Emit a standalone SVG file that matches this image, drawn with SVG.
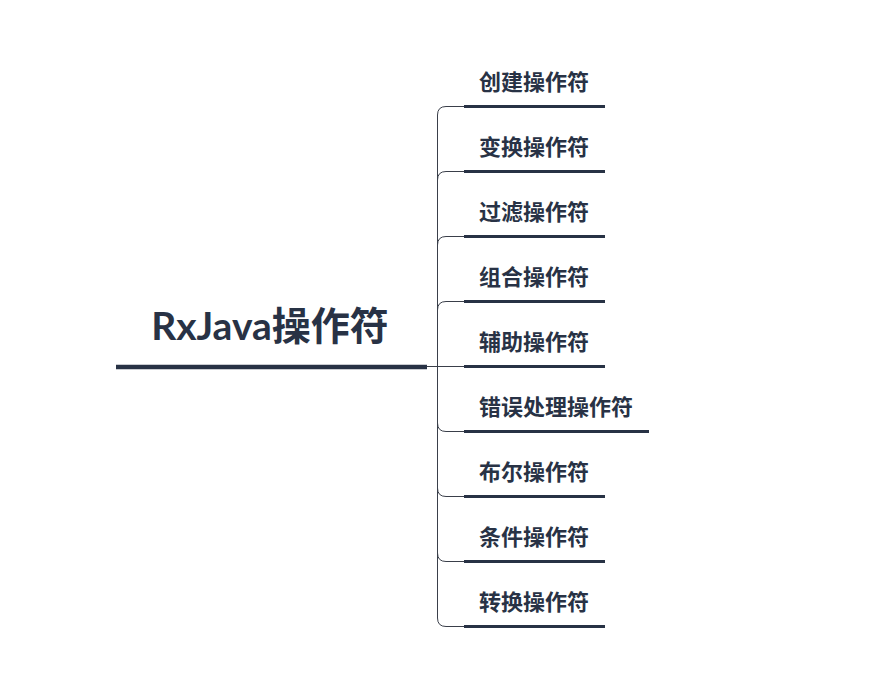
<svg xmlns="http://www.w3.org/2000/svg" width="885" height="675" viewBox="0 0 885 675">
<style>
.t{font-family:"Noto Sans CJK SC","Noto Sans",sans-serif;font-weight:bold;font-size:22px;fill:#283245}
.root{font-family:Lato,"Noto Sans CJK SC",sans-serif;font-weight:bold;font-size:39px;fill:#283245}
.ul{stroke:#283245;stroke-width:3;fill:none}
.c{stroke:#3a3f4a;stroke-width:1;fill:none}
</style>
<rect width="885" height="675" fill="#ffffff"/>
<g id="connectors">
<path class="c" d="M464,106.5 H446 Q437.5,106.5 437.5,115 V618 Q437.5,626.5 446,626.5 H464"/>
<path class="c" d="M464,171.5 H446 Q437.5,171.5 437.5,180"/>
<path class="c" d="M464,236.5 H446 Q437.5,236.5 437.5,245"/>
<path class="c" d="M464,301.5 H446 Q437.5,301.5 437.5,310"/>
<path class="c" d="M426,366.5 H464"/>
<path class="c" d="M437.5,423 Q437.5,431.5 446,431.5 H464"/>
<path class="c" d="M437.5,488 Q437.5,496.5 446,496.5 H464"/>
<path class="c" d="M437.5,553 Q437.5,561.5 446,561.5 H464"/>
</g>
<g id="root">
<text class="root" x="270" y="340" text-anchor="middle">RxJava操作符</text>
<line x1="116" y1="367" x2="427" y2="367" stroke="#283245" stroke-width="4.5"/>
</g>
<g id="n1"><text class="t" x="479" y="90">创建操作符</text><line class="ul" x1="464" y1="106.5" x2="605" y2="106.5"/></g>
<g id="n2"><text class="t" x="479" y="155">变换操作符</text><line class="ul" x1="464" y1="171.5" x2="605" y2="171.5"/></g>
<g id="n3"><text class="t" x="479" y="220">过滤操作符</text><line class="ul" x1="464" y1="236.5" x2="605" y2="236.5"/></g>
<g id="n4"><text class="t" x="479" y="285">组合操作符</text><line class="ul" x1="464" y1="301.5" x2="605" y2="301.5"/></g>
<g id="n5"><text class="t" x="479" y="350">辅助操作符</text><line class="ul" x1="464" y1="366.5" x2="605" y2="366.5"/></g>
<g id="n6"><text class="t" x="479" y="415">错误处理操作符</text><line class="ul" x1="464" y1="431.5" x2="649" y2="431.5"/></g>
<g id="n7"><text class="t" x="479" y="480">布尔操作符</text><line class="ul" x1="464" y1="496.5" x2="605" y2="496.5"/></g>
<g id="n8"><text class="t" x="479" y="545">条件操作符</text><line class="ul" x1="464" y1="561.5" x2="605" y2="561.5"/></g>
<g id="n9"><text class="t" x="479" y="610">转换操作符</text><line class="ul" x1="464" y1="626.5" x2="605" y2="626.5"/></g>
</svg>
